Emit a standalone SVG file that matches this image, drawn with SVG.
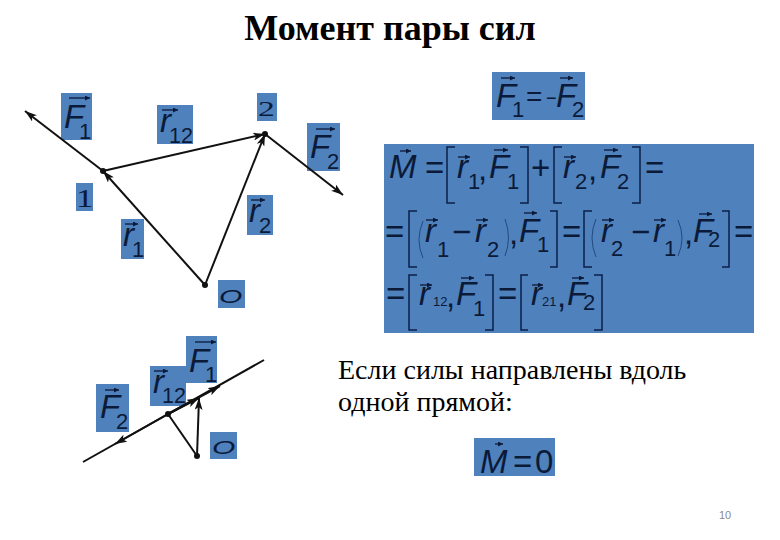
<svg xmlns="http://www.w3.org/2000/svg" width="780" height="540" viewBox="0 0 780 540">
<style>
.box{fill:#4f81bd}
text{fill:#0b1a38;font-family:"Liberation Sans",Arial,sans-serif}
.i{font-style:italic;font-size:33px}
.m{font-style:italic;font-size:33px}
.s{font-size:22px}
.t{font-size:13px}
.e{font-size:33px}
.n{font-family:"Liberation Serif","Times New Roman",serif}
.ru{font-family:"Liberation Serif","Times New Roman",serif;fill:#000}
.v{stroke:#0b1a38;stroke-width:1.3;fill:none;marker-end:url(#vh)}
.b{stroke:#0b1f4a;stroke-width:1.5;fill:none}
.p{stroke:#234a80;stroke-width:1;fill:none}
.c{stroke:#111;stroke-width:2;fill:none}
.a{marker-end:url(#ah)}
.d{fill:#111}
</style>
<defs>
<marker id="vh" viewBox="0 0 6 6" refX="6" refY="3" markerWidth="6" markerHeight="5" markerUnits="userSpaceOnUse" orient="auto"><path d="M0 0L6 3L0 6Z" fill="#0b1a38"/></marker>
<marker id="ah" viewBox="0 0 12 8" refX="12" refY="4" markerWidth="12" markerHeight="8" markerUnits="userSpaceOnUse" orient="auto"><path d="M0 0L12 4L0 8L3 4Z" fill="#111"/></marker>
</defs>
<rect width="780" height="540" fill="#fff"/>
<text class="ru" x="390" y="40" text-anchor="middle" font-size="36" font-weight="bold">Момент пары сил</text>

<g id="label-f1"><rect class="box" x="61" y="93" width="31" height="47"/><text class="i" x="64" y="128">F</text><text class="s" x="79" y="139">1</text><line class="v" x1="69" y1="98" x2="90" y2="98"/></g>
<g id="label-r12"><rect class="box" x="157" y="105" width="36" height="39"/><text class="i" x="160" y="132">r</text><text class="s" x="169" y="143" textLength="24" lengthAdjust="spacingAndGlyphs">12</text><line class="v" x1="162" y1="110" x2="178" y2="110"/></g>
<g id="label-2"><rect class="box" x="257" y="93" width="20" height="28"/><text class="n" transform="translate(258 116) scale(1.6 1)" style="font-size:21px">2</text></g>
<g id="label-f2"><rect class="box" x="307" y="123" width="33" height="48"/><text class="i" x="310" y="158">F</text><text class="s" x="327" y="169">2</text><line class="v" x1="316" y1="129" x2="335" y2="129"/></g>
<g id="label-1"><rect class="box" x="76" y="183" width="17" height="28"/><text class="n" transform="translate(76 207) scale(1.4 1)" style="font-size:25px">1</text></g>
<g id="label-r1"><rect class="box" x="121" y="219" width="23" height="40"/><text class="i" x="123" y="246">r</text><text class="s" x="132" y="257">1</text><line class="v" x1="125" y1="224" x2="138" y2="224"/></g>
<g id="label-r2"><rect class="box" x="247" y="195" width="26" height="40"/><text class="i" x="249" y="222">r</text><text class="s" x="259" y="233">2</text><line class="v" x1="251" y1="200" x2="265" y2="200"/></g>
<g id="label-o"><rect class="box" x="218" y="280" width="27" height="28"/><text class="i" transform="translate(219 303) scale(1 .6)" style="font-size:30px">O</text></g>

<g id="eq-f"><rect class="box" x="492" y="72" width="93" height="48"/>
<text class="i" x="496" y="107">F</text><text class="s" x="512" y="117">1</text><text class="e" x="526" y="106" style="font-size:28px">=</text><text class="e" x="546" y="104" style="font-size:18px">−</text><text class="i" x="556" y="107">F</text><text class="s" x="572" y="117">2</text>
<line class="v" x1="501" y1="78" x2="515" y2="78"/><line class="v" x1="560" y1="78" x2="573" y2="78"/></g>

<g id="eq-moment"><rect class="box" x="384" y="144" width="370" height="189"/>
<text class="m" x="389" y="178">M</text><line class="v" x1="400" y1="151" x2="411" y2="151"/>
<text class="e" x="425" y="179">=</text>
<path class="b" d="M455 147H447V203H455M520 147H528V203H520"/>
<text class="m" x="457" y="178">r</text><line class="v" x1="458" y1="157" x2="470" y2="157"/><text class="s" x="468" y="189">1</text><text class="e" x="478" y="180">,</text>
<text class="m" x="489" y="178">F</text><line class="v" x1="494" y1="150" x2="508" y2="150"/><text class="s" x="507" y="189">1</text>
<text class="e" x="531" y="179">+</text>
<path class="b" d="M562 147H554V203H562M632 147H640V203H632"/>
<text class="m" x="563" y="178">r</text><line class="v" x1="564" y1="157" x2="576" y2="157"/><text class="s" x="575" y="189">2</text><text class="e" x="588" y="180">,</text>
<text class="m" x="600" y="178">F</text><line class="v" x1="604" y1="150" x2="618" y2="150"/><text class="s" x="617" y="189">2</text>
<text class="e" x="645" y="179">=</text>

<text class="e" x="385" y="243">=</text>
<path class="b" d="M417 211H409V267H417M550 211H557V267H550"/>
<text class="m" x="425" y="242">r</text><line class="v" x1="426" y1="220" x2="438" y2="220"/><text class="s" x="437" y="257">1</text>
<path class="p" d="M423 221Q415 240 423 258M505 219Q512 238 505 256"/>
<text class="e" x="452" y="243">−</text>
<text class="m" x="475" y="242">r</text><line class="v" x1="476" y1="220" x2="488" y2="220"/><text class="s" x="487" y="257">2</text>
<text class="e" x="509" y="244">,</text>
<text class="m" x="519" y="242">F</text><line class="v" x1="524" y1="213" x2="537" y2="213"/><text class="s" x="537" y="252">1</text>
<text class="e" x="562" y="243">=</text>
<path class="b" d="M592 211H584V267H592M722 211H729V267H722"/>
<path class="p" d="M596 219Q588 238 596 257M678 220Q686 238 678 256"/>
<text class="m" x="601" y="242">r</text><line class="v" x1="602" y1="220" x2="614" y2="220"/><text class="s" x="611" y="256">2</text>
<text class="e" x="631" y="243">−</text>
<text class="m" x="653" y="242">r</text><line class="v" x1="654" y1="220" x2="666" y2="220"/><text class="s" x="664" y="256">1</text>
<text class="e" x="684" y="244">,</text>
<text class="m" x="693" y="242">F</text><line class="v" x1="699" y1="214" x2="712" y2="214"/><text class="s" x="708" y="247">2</text>
<text class="e" x="734" y="243">=</text>

<text class="e" x="386" y="305">=</text>
<path class="b" d="M417 275H409V330H417M485 275H493V330H485"/>
<text class="m" x="419" y="305">r</text><line class="v" x1="420" y1="285" x2="432" y2="285"/><text class="t" x="433" y="306">12</text><text class="e" x="446" y="307">,</text>
<text class="m" x="456" y="305">F</text><line class="v" x1="461" y1="278" x2="474" y2="278"/><text class="s" x="473" y="316">1</text>
<text class="e" x="498" y="305">=</text>
<path class="b" d="M528 275H521V330H528M594 275H602V330H594"/>
<text class="m" x="531" y="305">r</text><line class="v" x1="532" y1="285" x2="543" y2="285"/><text class="t" x="542" y="306">21</text><text class="e" x="557" y="307">,</text>
<text class="m" x="567" y="305">F</text><line class="v" x1="572" y1="278" x2="584" y2="278"/><text class="s" x="583" y="310">2</text>
</g>

<g id="label-f1-lower"><rect class="box" x="186" y="336" width="31" height="47"/><text class="i" x="189" y="372">F</text><text class="s" x="205" y="382">1</text><line class="v" x1="195" y1="342" x2="216" y2="342"/></g>
<g id="label-r12-lower"><rect class="box" x="150" y="366" width="36" height="40"/><text class="i" x="153" y="393">r</text><text class="s" x="162" y="403" textLength="24" lengthAdjust="spacingAndGlyphs">12</text><line class="v" x1="154" y1="371" x2="168" y2="371"/></g>
<g id="label-f2-lower"><rect class="box" x="96" y="384" width="33" height="48"/><text class="i" x="100" y="418">F</text><text class="s" x="116" y="429">2</text><line class="v" x1="105" y1="390" x2="119" y2="390"/></g>
<g id="label-o-lower"><rect class="box" x="210" y="432" width="27" height="27"/><text class="i" transform="translate(212 454) scale(1 .6)" style="font-size:30px">O</text></g>

<g id="connectors">
<path class="c a" d="M103 171L25 111"/>
<path class="c a" d="M103 171L265 134"/>
<path class="c a" d="M205 285L103 171"/>
<path class="c a" d="M205 285L265 134"/>
<path class="c a" d="M265 134L343 195"/>
<path class="c" d="M83 462L264 360"/>
<path class="c a" d="M168 414L115 444"/>
<path class="c a" d="M168 414L220 386"/>
<path class="c" d="M168 414L197 456"/>
<path class="c a" d="M197 456L199 398"/>
<path class="c a" d="M168 414L199 398"/>
<circle class="d" cx="103" cy="171" r="3"/>
<circle class="d" cx="265" cy="134" r="3"/>
<circle class="d" cx="205" cy="285" r="3"/>
<circle class="d" cx="168" cy="414" r="3"/>
<circle class="d" cx="197" cy="456" r="3"/>
</g>

<text class="ru" x="338" y="379" font-size="28">Если силы направлены вдоль</text>
<text class="ru" x="338" y="411" font-size="28">одной прямой:</text>

<g id="eq-zero"><rect class="box" x="474" y="438" width="81" height="38"/>
<text class="m" x="480" y="473">M</text><line class="v" x1="495" y1="444" x2="503" y2="444"/><text class="e" x="513" y="473">=</text><text class="e" x="535" y="473">0</text></g>

<text x="719" y="519" font-size="11" style="fill:#8a8a8a">10</text>
</svg>
